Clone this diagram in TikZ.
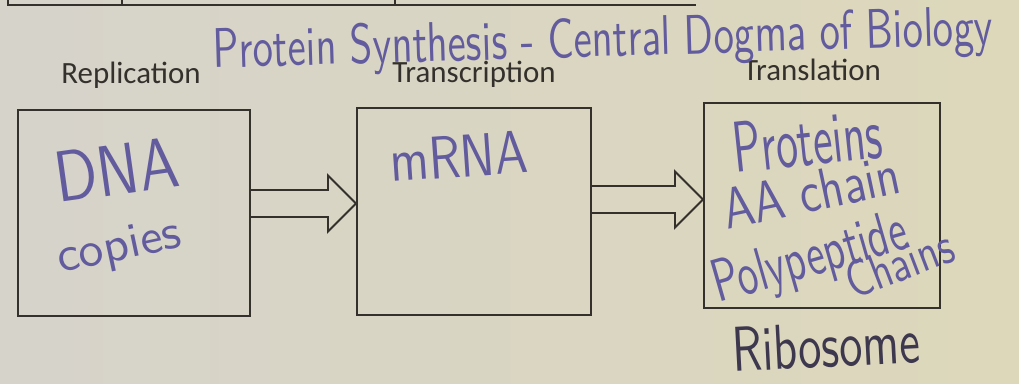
\documentclass[tikz,border=0pt]{standalone}
\usepackage{fontspec}
\usepackage{graphicx}
\usetikzlibrary{calc}
\newfontfamily\printfont{Carlito}
\definecolor{paperleft}{RGB}{214,211,203}
\definecolor{paperright}{RGB}{221,216,186}
\definecolor{ink}{RGB}{52,48,44}
\definecolor{pen}{RGB}{98,92,158}
\definecolor{pendark}{RGB}{62,56,78}
\newcommand{\scribble}[3]{\resizebox{#1}{#2}{\sffamily #3}}

\begin{document}
\begin{tikzpicture}[x=0.025cm,y=-0.025cm,line cap=round,
  box/.style={draw=ink,line width=1.4pt,inner sep=0pt},
  blockarrow/.style={draw=ink,line width=1.4pt,line join=miter,line cap=butt},
  printed/.style={text=ink,font=\printfont\fontsize{22}{26}\selectfont,anchor=base,inner sep=0pt},
  hand/.style={text=pen,anchor=base west,inner sep=0pt}]
  \def\shaft{13.5}
  \def\head{28}

  % --- paper ---
  \shade[left color=paperleft,right color=paperright] (0,0) rectangle (1019,383);
  \useasboundingbox (0,0) rectangle (1019,383);

  % edge of the table above
  \draw[ink,line width=2pt,line cap=butt] (8,0) -- (8,5) -- (696,5);
  \draw[ink,line width=2pt,line cap=butt] (122,0) -- (122,5);
  \draw[ink,line width=2pt,line cap=butt] (395,0) -- (395,5);

  % --- the three stages ---
  \node[box,minimum width=5.8cm,minimum height=5.15cm] (dna) at (134,213) {};
  \node[box,minimum width=5.85cm,minimum height=5.175cm] (mrna) at (474,211.5) {};
  \node[box,minimum width=5.9cm,minimum height=5.125cm] (protein) at (822,205.5) {};

  \node[printed] (replication) at (131,83) {Replication};
  \node[printed] (transcription) at (474,82) {Transcription};
  \node[printed] (translation) at (812,80) {Translation};

  % hollow arrows between the boxes
  \coordinate (a1) at ($(dna.east)+(0,-9.5)$);
  \coordinate (a2) at ($(mrna.east)+(0,-12)$);
  \foreach \src/\dst in {a1/mrna,a2/protein}
    \draw[blockarrow] ($(\src)+(0,\shaft)$) -- ($(\dst.west|-\src)+(-\head,\shaft)$)
      -- ($(\dst.west|-\src)+(-\head,\head)$) -- (\dst.west|-\src)
      -- ($(\dst.west|-\src)+(-\head,-\head)$) -- ($(\dst.west|-\src)+(-\head,-\shaft)$)
      -- ($(\src)+(0,-\shaft)$);

  % --- handwriting ---
  \node[hand,rotate=1.7] (title) at (213,68) {\scribble{19.5cm}{1.0cm}{Protein Synthesis - Central Dogma of Biology}};
  \node[hand,rotate=8] (dnatext) at (58,203) {\scribble{3.1cm}{1.25cm}{DNA}};
  \node[hand,rotate=12] (copies) at (60,273) {\scribble{3.15cm}{0.8cm}{copies}};
  \node[hand,rotate=4] (mrnatext) at (391,182) {\scribble{3.45cm}{1.05cm}{mRNA}};
  \node[hand,rotate=6] (proteins) at (735,173) {\scribble{3.75cm}{1.25cm}{Proteins}};
  \node[hand,rotate=12] (aachain) at (727,230) {\scribble{4.5cm}{1.0cm}{AA chain}};
  \node[hand,rotate=16] (polypeptide) at (718,303) {\scribble{5.0cm}{1.05cm}{Polypeptide}};
  \node[hand,rotate=21] (chains) at (853,300) {\scribble{2.8cm}{0.9cm}{Chains}};
  \node[hand,text=pendark,rotate=3] (ribosome) at (733,372) {\scribble{4.7cm}{1.1cm}{Ribosome}};
\end{tikzpicture}
\end{document}
